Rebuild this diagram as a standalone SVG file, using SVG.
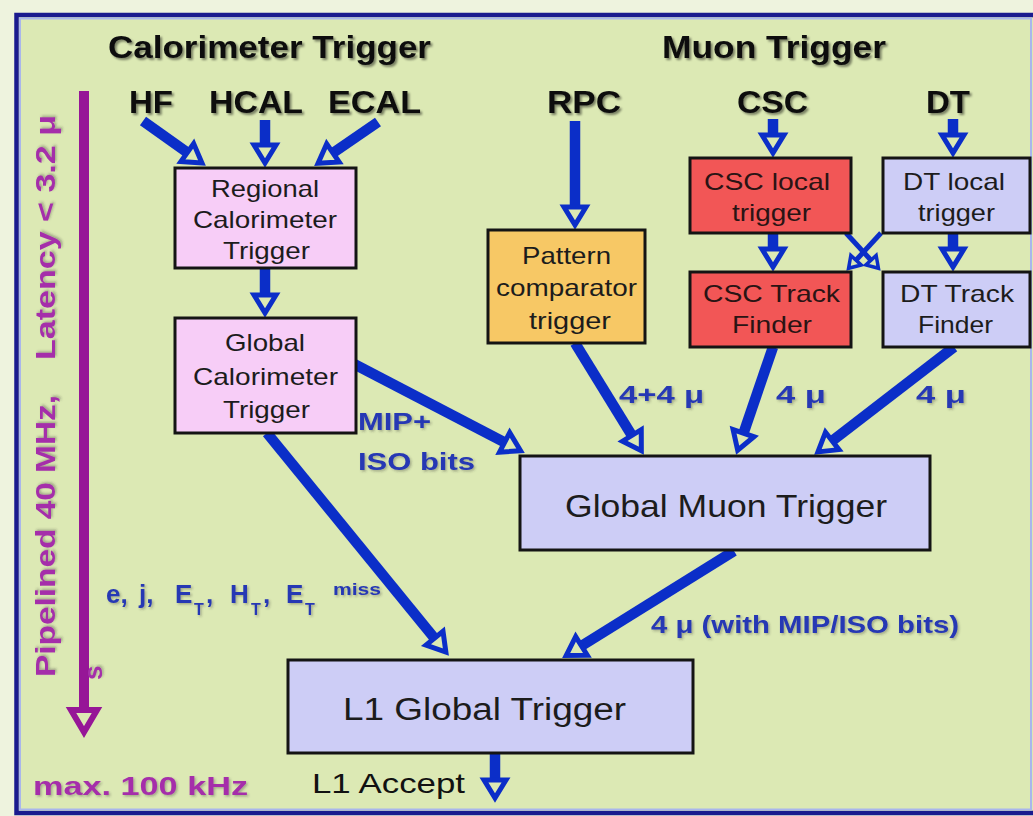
<svg xmlns="http://www.w3.org/2000/svg" width="1033" height="816" viewBox="0 0 1033 816">
  <style>
    .page{fill:#EEF3DE}
    .panel{fill:#DCE9B4;stroke:#1A1A8E;stroke-width:4.5}
    .inner{fill:none;stroke:#A9B6EC;stroke-width:2}
    .box{stroke:#141414;stroke-width:3}
    .pink{fill:#F7CDF7}
    .orange{fill:#F7C865}
    .red{fill:#F25656}
    .lav{fill:#CDCDF6}
    .t{font-family:"Liberation Sans",Arial,sans-serif;font-size:24px;fill:#1c1c1c}
    .tr{fill:#2a1414}
    .big{font-size:32px}
    .h{font-family:"Liberation Sans",Arial,sans-serif;font-weight:bold;font-size:32px;fill:#111;filter:url(#sh)}
    .lb{font-family:"Liberation Sans",Arial,sans-serif;font-weight:bold;font-size:24px;fill:#2537B4;filter:url(#shl)}
    .pu{font-family:"Liberation Sans",Arial,sans-serif;font-weight:bold;font-size:28px;fill:#A52FAA;filter:url(#shl)}
    .sub{font-size:16px}
    .ar{stroke:#0B2EC8;stroke-width:10.5;fill:none;marker-end:url(#ah)}
    .ars{stroke:#0B2EC8;stroke-width:5;fill:none;marker-end:url(#ahs)}
    .arp{stroke:#961697;stroke-width:10;fill:none;marker-end:url(#ahp)}
  </style>
  <defs>
    <filter id="sh" x="-5%" y="-20%" width="115%" height="150%">
      <feDropShadow dx="2" dy="2" stdDeviation="1.2" flood-color="#000" flood-opacity="0.45"/>
    </filter>
    <filter id="shl" x="-5%" y="-20%" width="115%" height="150%">
      <feDropShadow dx="1.5" dy="1.5" stdDeviation="1" flood-color="#333" flood-opacity="0.35"/>
    </filter>
    <!-- hollow triangular heads; the path end sits on the base of the head -->
    <marker id="ah" markerUnits="userSpaceOnUse" orient="auto" overflow="visible" refX="0" refY="0" markerWidth="1" markerHeight="1">
      <path d="M0,-11 L18,0 L0,11 Z" fill="#DCE9B4" stroke="#0B2EC8" stroke-width="5"/>
    </marker>
    <marker id="ahs" markerUnits="userSpaceOnUse" orient="auto" overflow="visible" refX="0" refY="0" markerWidth="1" markerHeight="1">
      <path d="M0,-7 L11,0 L0,7 Z" fill="#DCE9B4" stroke="#0B2EC8" stroke-width="3.5"/>
    </marker>
    <marker id="ahp" markerUnits="userSpaceOnUse" orient="auto" overflow="visible" refX="0" refY="0" markerWidth="1" markerHeight="1">
      <path d="M0,-13 L22,0 L0,13 Z" fill="#DCE9B4" stroke="#961697" stroke-width="6"/>
    </marker>
  </defs>

  <!-- page and framed panel -->
  <rect class="page" x="0" y="0" width="1033" height="816"/>
  <rect class="panel" x="16.5" y="15" width="1022" height="798"/>
  <rect class="inner" x="20" y="18.5" width="1011" height="791"/>

  <!-- section titles -->
  <g id="title-calo"><text class="h" x="108" y="58" textLength="323" lengthAdjust="spacingAndGlyphs">Calorimeter Trigger</text></g>
  <g id="title-muon"><text class="h" x="662" y="58" textLength="224" lengthAdjust="spacingAndGlyphs">Muon Trigger</text></g>

  <!-- detector inputs -->
  <g id="src-hf"><text class="h" x="129" y="113" textLength="44" lengthAdjust="spacingAndGlyphs">HF</text></g>
  <g id="src-hcal"><text class="h" x="209" y="113" textLength="94" lengthAdjust="spacingAndGlyphs">HCAL</text></g>
  <g id="src-ecal"><text class="h" x="328" y="113" textLength="93" lengthAdjust="spacingAndGlyphs">ECAL</text></g>
  <g id="src-rpc"><text class="h" x="547" y="113" textLength="74" lengthAdjust="spacingAndGlyphs">RPC</text></g>
  <g id="src-csc"><text class="h" x="737" y="113" textLength="71" lengthAdjust="spacingAndGlyphs">CSC</text></g>
  <g id="src-dt"><text class="h" x="926" y="113" textLength="44" lengthAdjust="spacingAndGlyphs">DT</text></g>

  <!-- latency axis -->
  <g id="latency-axis">
    <line class="arp" x1="84" y1="91" x2="84" y2="710"/>
    <text class="pu" transform="translate(55,677) rotate(-90)"><tspan x="0" y="0" textLength="282" lengthAdjust="spacingAndGlyphs">Pipelined 40 MHz,</tspan><tspan x="317" y="0" textLength="245" lengthAdjust="spacingAndGlyphs">Latency &lt; 3.2 μ</tspan></text>
    <text class="pu" transform="translate(102,680) rotate(-90)" style="font-size:26px">s</text>
    <text class="pu" x="33" y="795" textLength="215" lengthAdjust="spacingAndGlyphs" style="font-size:26px">max. 100 kHz</text>
  </g>

  <!-- connectors -->
  <g id="connectors">
    <line class="ar" x1="143" y1="121" x2="187.3" y2="152.6"/>
    <line class="ar" x1="265" y1="120" x2="265" y2="145"/>
    <line class="ar" x1="378" y1="122" x2="332.9" y2="153"/>
    <line class="ar" x1="265" y1="268" x2="265" y2="295"/>
    <line class="ar" x1="354" y1="364" x2="504.6" y2="442.4"/>
    <line class="ar" x1="267" y1="433" x2="434.5" y2="638.2"/>
    <line class="ar" x1="575" y1="121" x2="575" y2="207"/>
    <line class="ar" x1="773" y1="119" x2="773" y2="135"/>
    <line class="ar" x1="953" y1="119" x2="953" y2="135"/>
    <line class="ar" x1="773" y1="233" x2="773" y2="249"/>
    <line class="ar" x1="953" y1="233" x2="953" y2="249"/>
    <line class="ars" x1="846" y1="233" x2="871" y2="260.2"/>
    <line class="ars" x1="881" y1="233" x2="856" y2="260.2"/>
    <line class="ar" x1="575" y1="343" x2="631.9" y2="435.4"/>
    <line class="ar" x1="773" y1="347" x2="743.5" y2="433.2"/>
    <line class="ar" x1="954" y1="347" x2="832.2" y2="440.9"/>
    <line class="ar" x1="734" y1="551" x2="581.5" y2="645.9"/>
    <line class="ar" x1="495" y1="753" x2="495" y2="780"/>
  </g>

  <!-- connector labels -->
  <g id="labels">
    <text class="lb" x="358" y="430" textLength="73" lengthAdjust="spacingAndGlyphs">MIP+</text>
    <text class="lb" x="358" y="470" textLength="117" lengthAdjust="spacingAndGlyphs">ISO bits</text>
    <text class="lb" x="619" y="403" textLength="85" lengthAdjust="spacingAndGlyphs">4+4 μ</text>
    <text class="lb" x="776" y="403" textLength="50" lengthAdjust="spacingAndGlyphs">4 μ</text>
    <text class="lb" x="916" y="403" textLength="50" lengthAdjust="spacingAndGlyphs">4 μ</text>
    <text class="lb" x="651" y="633" textLength="308" lengthAdjust="spacingAndGlyphs">4 μ (with MIP/ISO bits)</text>
    <text class="lb" style="font-size:26px"><tspan x="106" y="603">e,</tspan><tspan x="139" y="603">j,</tspan><tspan x="175" y="603">E</tspan><tspan class="sub" x="194" y="615">T</tspan><tspan x="206" y="603">,</tspan><tspan x="230" y="603">H</tspan><tspan class="sub" x="251" y="615">T</tspan><tspan x="263" y="603">,</tspan><tspan x="286" y="603">E</tspan><tspan class="sub" x="305" y="615">T</tspan><tspan x="333" y="595" style="font-size:16px" textLength="48" lengthAdjust="spacingAndGlyphs">miss</tspan></text>
  </g>

  <!-- calorimeter trigger nodes -->
  <g id="rct">
    <rect class="box pink" x="175" y="168" width="181" height="100"/>
    <text class="t" x="211" y="197" textLength="108" lengthAdjust="spacingAndGlyphs">Regional</text>
    <text class="t" x="193" y="228" textLength="144" lengthAdjust="spacingAndGlyphs">Calorimeter</text>
    <text class="t" x="223" y="259" textLength="87" lengthAdjust="spacingAndGlyphs">Trigger</text>
  </g>
  <g id="gct">
    <rect class="box pink" x="175" y="318" width="181" height="115"/>
    <text class="t" x="225" y="351" textLength="80" lengthAdjust="spacingAndGlyphs">Global</text>
    <text class="t" x="193" y="385" textLength="145" lengthAdjust="spacingAndGlyphs">Calorimeter</text>
    <text class="t" x="223" y="418" textLength="87" lengthAdjust="spacingAndGlyphs">Trigger</text>
  </g>

  <!-- muon trigger nodes -->
  <g id="pattern">
    <rect class="box orange" x="488" y="230" width="157" height="113"/>
    <text class="t" x="522" y="264" textLength="89" lengthAdjust="spacingAndGlyphs">Pattern</text>
    <text class="t" x="496" y="296" textLength="141" lengthAdjust="spacingAndGlyphs">comparator</text>
    <text class="t" x="529" y="329" textLength="82" lengthAdjust="spacingAndGlyphs">trigger</text>
  </g>
  <g id="csc-local">
    <rect class="box red" x="690" y="158" width="161" height="75"/>
    <text class="t tr" x="704" y="190" textLength="126" lengthAdjust="spacingAndGlyphs">CSC local</text>
    <text class="t tr" x="732" y="221" textLength="79" lengthAdjust="spacingAndGlyphs">trigger</text>
  </g>
  <g id="csc-tf">
    <rect class="box red" x="690" y="272" width="161" height="75"/>
    <text class="t tr" x="703" y="302" textLength="137" lengthAdjust="spacingAndGlyphs">CSC Track</text>
    <text class="t tr" x="732" y="333" textLength="80" lengthAdjust="spacingAndGlyphs">Finder</text>
  </g>
  <g id="dt-local">
    <rect class="box lav" x="883" y="158" width="147" height="75"/>
    <text class="t" x="903" y="190" textLength="102" lengthAdjust="spacingAndGlyphs">DT local</text>
    <text class="t" x="918" y="221" textLength="77" lengthAdjust="spacingAndGlyphs">trigger</text>
  </g>
  <g id="dt-tf">
    <rect class="box lav" x="883" y="272" width="147" height="75"/>
    <text class="t" x="900" y="302" textLength="114" lengthAdjust="spacingAndGlyphs">DT Track</text>
    <text class="t" x="918" y="333" textLength="75" lengthAdjust="spacingAndGlyphs">Finder</text>
  </g>
  <g id="gmt">
    <rect class="box lav" x="520" y="456" width="410" height="94"/>
    <text class="t big" x="565" y="517" textLength="322" lengthAdjust="spacingAndGlyphs">Global Muon Trigger</text>
  </g>

  <!-- global trigger -->
  <g id="l1gt">
    <rect class="box lav" x="288" y="660" width="405" height="93"/>
    <text class="t" x="343" y="720" style="font-size:31px" textLength="283" lengthAdjust="spacingAndGlyphs">L1 Global Trigger</text>
  </g>
  <g id="l1-accept">
    <text class="t" x="312" y="793" style="font-size:28px;fill:#111" textLength="153" lengthAdjust="spacingAndGlyphs">L1 Accept</text>
  </g>
</svg>
